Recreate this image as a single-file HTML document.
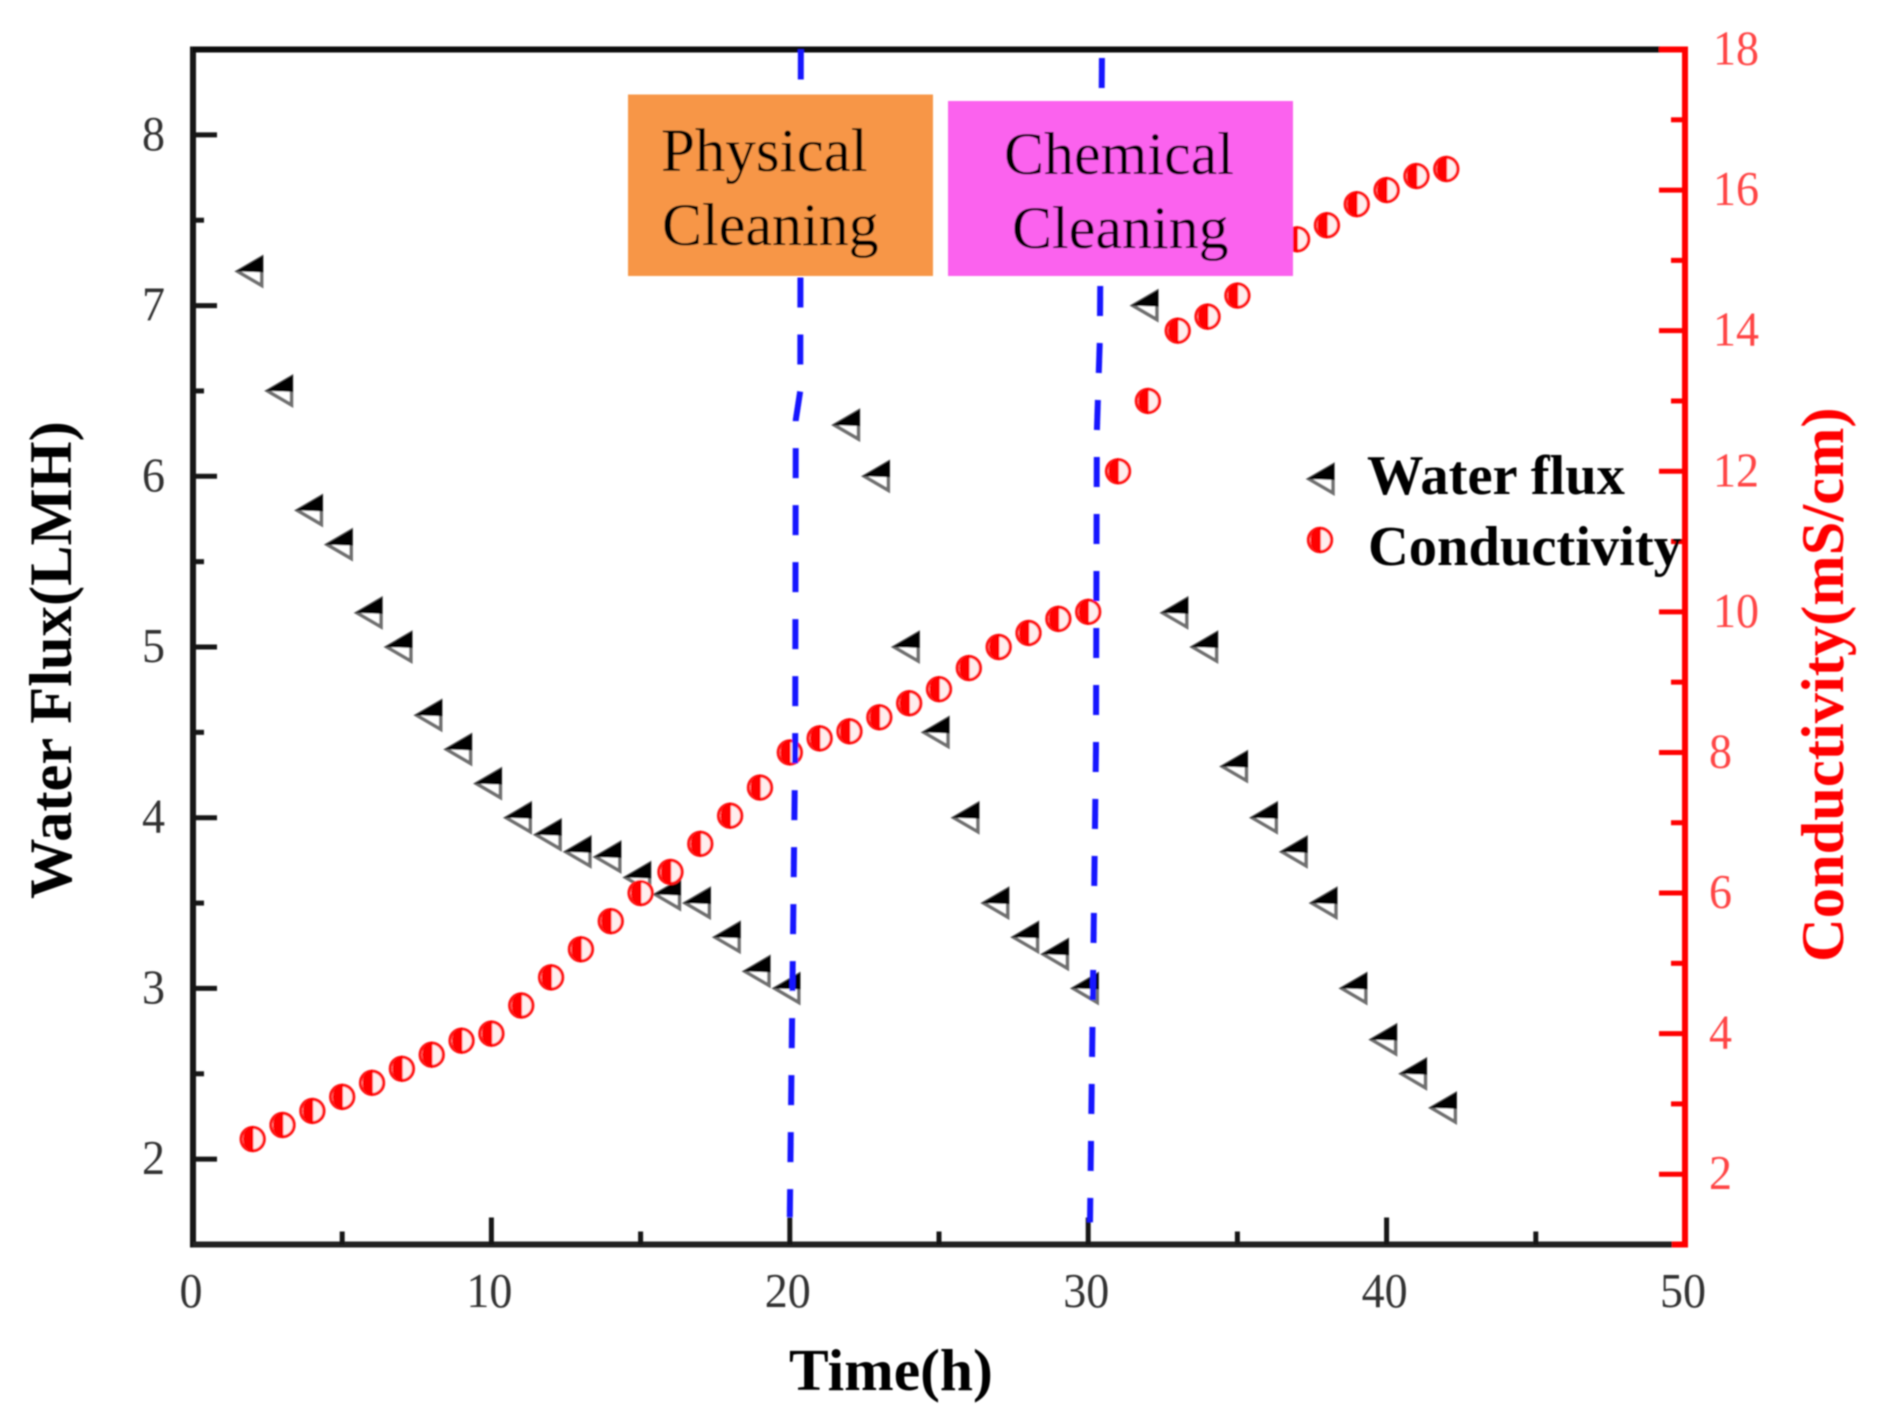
<!DOCTYPE html>
<html lang="en">
<head>
<meta charset="utf-8">
<title>Water flux and conductivity versus time</title>
<style>
html,body{margin:0;padding:0;background:#fff;}
svg{display:block;}
text{font-family:"Liberation Serif",serif;}
</style>
</head>
<body>
<svg id="chart" xmlns="http://www.w3.org/2000/svg" width="1892" height="1426" viewBox="0 0 1892 1426">
<defs>
<filter id="soft" x="-2%" y="-2%" width="104%" height="104%"><feGaussianBlur stdDeviation="0.9"/></filter>
</defs>
<g id="root" filter="url(#soft)"></g>
</svg>
<script>
const timeHours = [2,3,4,5,6,7,8,9,10,11,12,13,14,15,16,17,18,19,20,22,23,24,25,26,27,28,29,30,32,33,34,35,36,37,38,39,40,41,42];
const waterFlux = [7.2,6.5,5.8,5.6,5.2,5.0,4.6,4.4,4.2,4.0,3.9,3.8,3.77,3.65,3.55,3.5,3.3,3.1,3.0,6.3,6.0,5.0,4.5,4.0,3.5,3.3,3.2,3.0,7.0,5.2,5.0,4.3,4.0,3.8,3.5,3.0,2.7,2.5,2.3];
const conductivityTime = [2,3,4,5,6,7,8,9,10,11,12,13,14,15,16,17,18,19,20,21,22,23,24,25,26,27,28,29,30,31,32,33,34,35,36,37,38,39,40,41,42];
const conductivity = [2.5,2.7,2.9,3.1,3.3,3.5,3.7,3.9,4.0,4.4,4.8,5.2,5.6,6.0,6.3,6.7,7.1,7.5,8.0,8.2,8.3,8.5,8.7,8.9,9.2,9.5,9.7,9.9,10.0,12.0,13.0,14.0,14.2,14.5,15.0,15.3,15.5,15.8,16.0,16.2,16.3];
const xTickLabels = [0,10,20,30,40,50];
const xMinorTicks = [5,15,25,35,45];
const fluxTickLabels = [2,3,4,5,6,7,8];
const fluxMinorTicks = [2.5,3.5,4.5,5.5,6.5,7.5];
const condTickLabels = [2,4,6,8,10,12,14,16,18];
const condMinorTicks = [3,5,7,9,11,13,15,17];
const physicalCleaningLine = [[20.37,8.5],[20.35,6.5],[20.2,6.33],[20.18,4.4],[20.0,1.66]];
const chemicalCleaningLine = [[30.46,8.45],[30.39,6.8],[30.29,6.26],[30.26,4.4],[30.06,1.63]];

const NS = 'http://www.w3.org/2000/svg';
const root = document.getElementById('root');
const plotLeft = 193, plotRight = 1685, plotTop = 49.5, plotBottom = 1244.5;
function xScale(t){ return plotLeft + (t - 0) / 50 * (plotRight - plotLeft); }
function yFlux(v){ return plotBottom - (v - 1.5) / 7 * (plotBottom - plotTop); }
function yCond(v){ return plotBottom - (v - 1) / 17 * (plotBottom - plotTop); }

function make(tag, attrs, parent){
  const el = document.createElementNS(NS, tag);
  for (const k in attrs) el.setAttribute(k, attrs[k]);
  (parent || root).appendChild(el);
  return el;
}
function line(x1,y1,x2,y2,color,w,parent){
  return make('line',{x1:x1,y1:y1,x2:x2,y2:y2,stroke:color,'stroke-width':w},parent);
}
function group(){ return make('g',{}); }

const BLACK = '#151515', RED = '#ff0000', TICKGREY = '#333', TICKRED = '#ff4545';

/* axes */
const leftAxis = line(plotLeft,plotTop-3,plotLeft,plotBottom+3,BLACK,6);


const bottomAxis = line(plotLeft,plotBottom,1672,plotBottom,'#222',6);


const topAxis = line(plotLeft,plotTop,1660,plotTop,'#111',6);


const rightAxis = line(plotRight,plotTop-3,plotRight,plotBottom+3,RED,6);


const topRed = line(1660,plotTop,plotRight,plotTop,RED,6);


const bottomRed = line(1672,plotBottom,plotRight,plotBottom,RED,6);



/* tick label with slightly condensed digits, as in the reference */
function tickText(v,x,y,anchor,fill,parent){
  const s = String(v);
  const t = make('text',{x:x,y:y,'font-size':49,'text-anchor':anchor,fill:fill,textLength:s.length*23,lengthAdjust:'spacingAndGlyphs'},parent);
  t.textContent = s;
  return t;
}

/* x ticks */
xTickLabels.forEach(function(v){
  const g = group();
  
  
  if (v > 0 && v < 50) line(xScale(v),plotBottom,xScale(v),plotBottom-27,BLACK,5,g);
  tickText(v,xScale(v)-2,1307,'middle',TICKGREY,g);
});
xMinorTicks.forEach(function(v){
  const m = line(xScale(v),plotBottom,xScale(v),plotBottom-13,BLACK,5);
  
  
});

/* left ticks */
fluxTickLabels.forEach(function(v){
  const g = group();
  
  
  line(plotLeft,yFlux(v),plotLeft+24,yFlux(v),BLACK,5,g);
  tickText(v,165,yFlux(v)+15,'end',TICKGREY,g);
});
fluxMinorTicks.forEach(function(v){
  const m = line(plotLeft,yFlux(v),plotLeft+11,yFlux(v),BLACK,5);
  
  
});

/* right ticks */
condTickLabels.forEach(function(v){
  const g = group();
  
  
  line(plotRight,yCond(v),plotRight-26,yCond(v),RED,5,g);
  tickText(v,v >= 10 ? 1713 : 1709,yCond(v)+15,'start',TICKRED,g);
});
condMinorTicks.forEach(function(v){
  const m = line(plotRight,yCond(v),plotRight-14,yCond(v),RED,5);
  
  
});

/* marker drawers */
function drawTriangle(cx,cy,parent){
  make('polygon',{points:(cx-15)+','+cy+' '+(cx+9)+','+(cy-14)+' '+(cx+9)+','+(cy+14),fill:'#fff',stroke:'#707070','stroke-width':3.5,'stroke-linejoin':'miter'},parent);
  make('polygon',{points:(cx-17)+','+cy+' '+(cx+10.5)+','+(cy-16)+' '+(cx+10.5)+','+(cy+1),fill:'#000'},parent);
}
function drawCircle(cx,cy,parent){
  make('circle',{cx:cx,cy:cy,r:11.6,fill:'#ffeeee',stroke:'#ff1818','stroke-width':3.2},parent);
  make('path',{d:'M'+(cx+0.8)+' '+(cy-13.2)+' A13.2 13.5 0 0 0 '+(cx+0.8)+' '+(cy+13.2)+' Z',fill:RED},parent);
}

/* water flux series */
const fluxSeries = group();


timeHours.forEach(function(t,i){
  const p = make('g',{},fluxSeries);
  
  
  drawTriangle(xScale(t),yFlux(waterFlux[i]),p);
});

/* conductivity series */
const condSeries = group();


conductivityTime.forEach(function(t,i){
  const p = make('g',{},condSeries);
  
  
  drawCircle(xScale(t),yCond(conductivity[i]),p);
});

/* cleaning lines */
function dashed(pts){
  const d = pts.map(function(p,i){ return (i ? 'L' : 'M') + xScale(p[0]) + ' ' + yFlux(p[1]); }).join(' ');
  return make('path',{d:d,fill:'none',stroke:'#1414ff','stroke-width':6,'stroke-dasharray':'30 27'});
}
const physLine = dashed(physicalCleaningLine);


const chemLine = dashed(chemicalCleaningLine);



/* annotation boxes */
function label(text,x,y,size,weight,fill,parent){
  const t = make('text',{x:x,y:y,'font-size':size,'font-weight':weight,fill:fill},parent);
  t.textContent = text;
  return t;
}
const physBox = group();


make('rect',{x:628,y:94.5,width:305,height:181.5,fill:'#f79646'},physBox);
label('Physical',661,171,61,'normal','#000',physBox);
label('Cleaning',662,245,60,'normal','#000',physBox);

const chemBox = group();


make('rect',{x:948,y:101,width:345,height:175,fill:'#fb62ee'},chemBox);
label('Chemical',1004,174,60,'normal','#000',chemBox);
label('Cleaning',1012,248,60,'normal','#000',chemBox);

/* legend */
const legendFlux = group();


drawTriangle(1324,479,legendFlux);
label('Water flux',1367,494,56.5,'bold','#000',legendFlux);
const legendCond = group();


drawCircle(1320,540,legendCond);
label('Conductivity',1368,565,56.5,'bold','#000',legendCond);

/* axis titles */
const xTitle = label('Time(h)',789,1390,59.5,'bold','#000');


const yTitle = label('Water Flux(LMH)',0,0,60.5,'bold','#000');
yTitle.setAttribute('transform','translate(71,899) rotate(-90)');


const y2Title = label('Conductivity(mS/cm)',0,0,60.5,'bold',RED);
y2Title.setAttribute('transform','translate(1843,962) rotate(-90)');


</script>
</body>
</html>
